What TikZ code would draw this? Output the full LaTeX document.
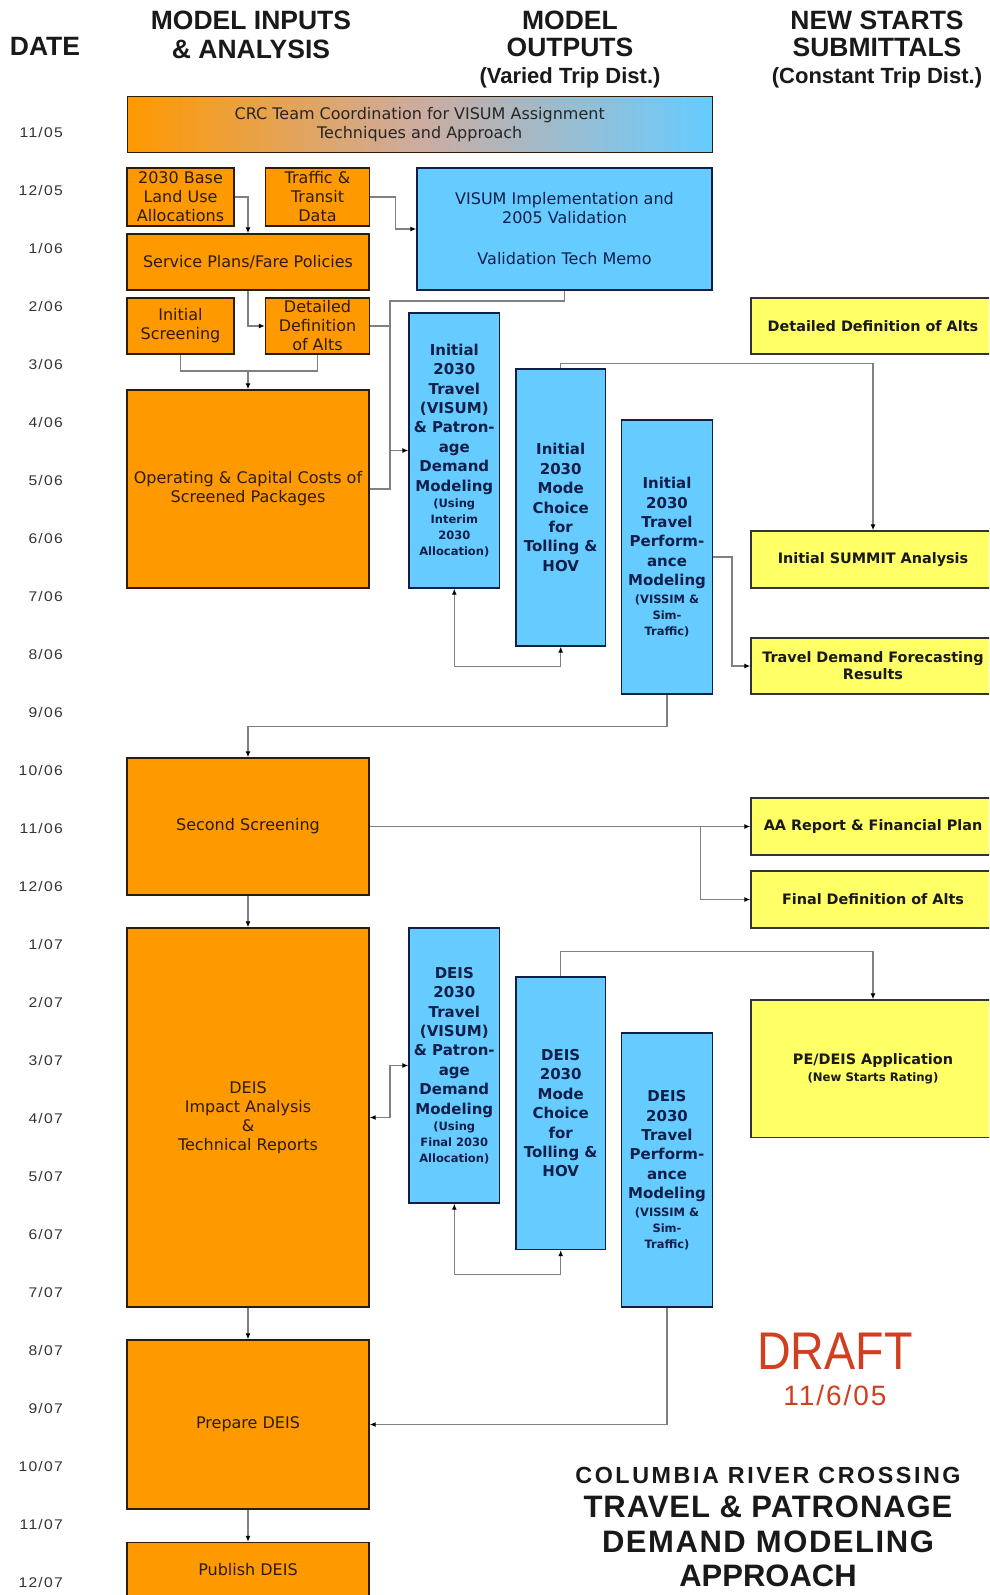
\documentclass[tikz,border=0pt]{standalone}
\usepackage{fontspec}
\setmainfont{DejaVu Sans}
\newfontfamily\headfont{Liberation Sans}
\newfontfamily\datefont[LetterSpace=8]{Liberation Sans}
\usetikzlibrary{arrows.meta,positioning}
\definecolor{crcorange}{RGB}{255,153,0}
\definecolor{crcblue}{RGB}{102,204,255}
\definecolor{crcmid}{RGB}{205,172,160}
\definecolor{crcyellow}{RGB}{255,255,102}
\definecolor{crcnavy}{RGB}{15,31,74}
\definecolor{inkbrown}{RGB}{45,28,10}
\definecolor{linkgray}{RGB}{128,128,128}
\definecolor{draftred}{RGB}{208,64,32}
\newcommand{\sm}{\fontsize{11.5}{16}\selectfont}

\begin{document}
\begin{tikzpicture}
  [x=1pt,y=-1pt,
    >={Latex[length=6pt,width=5pt,color=black]},
    every node/.style={inner sep=0pt,align=center},
    sz/.style 2 args={minimum width=#1,minimum height=#2},
    inbox/.style={fill=crcorange,draw=inkbrown,line width=1.4pt,text=inkbrown,font=\fontsize{16}{19}\selectfont},
    outbox/.style={fill=crcblue,draw=crcnavy,line width=1.4pt,text=crcnavy,font=\bfseries\fontsize{15}{19.4}\selectfont},
    subbox/.style={fill=crcyellow,draw=black!80,line width=1.4pt,text=black!90,font=\bfseries\fontsize{14.4}{17}\selectfont},
    head/.style={font=\headfont\bfseries\fontsize{26.5}{26.5}\selectfont,text=black!90},
    datelbl/.style={font=\datefont\fontsize{14}{14}\selectfont,text=black!80,anchor=east},
    link/.style={draw=linkgray,line width=1.2pt}]
  \useasboundingbox (0,0) rectangle (989,1595);
  \clip (0,0) rectangle (989,1595);

  % column heads
  \node[head] (h0) at (45,46) {DATE};
  \node[head,anchor=north] (h1) at (251,11) {MODEL INPUTS\\[2pt]\& ANALYSIS};
  \node[head,anchor=north] (h2) at (570,11) {MODEL\\OUTPUTS\\[1pt]{\fontsize{22}{24}\selectfont (Varied Trip Dist.)}};
  \node[head,anchor=north] (h3) at (877,11) {NEW STARTS\\SUBMITTALS\\[1pt]{\fontsize{22}{24}\selectfont (Constant Trip Dist.)}};

  % months
  \foreach \m/\y [count=\i from 0] in {11/05,12/05,1/06,2/06,3/06,4/06,5/06,6/06,7/06,8/06,9/06,10/06,11/06,12/06,
      1/07,2/07,3/07,4/07,5/07,6/07,7/07,8/07,9/07,10/07,11/07,12/07}
    \node[datelbl] (d\i) at (63,{132.3+58*\i}) {\scalebox{1.12}[1]{\m/\y}};

  % model inputs & analysis
  \node[sz={585}{56},draw=inkbrown,line width=1.4pt,left color=crcorange,right color=crcblue,middle color=crcmid,
        text=black!85,font=\fontsize{16}{19}\selectfont] (crc) at (419.7,124.7)
        {CRC Team Coordination for VISUM Assignment\\Techniques and Approach};
  \node[inbox,sz={107}{58}] (base) at (180.5,197) {2030 Base\\Land Use\\Allocations};
  \node[inbox,sz={104}{58}] (data) at (317.5,197) {Traffic \&\\Transit\\Data};
  \node[inbox,sz={242}{56}] (plans) at (248,262) {Service Plans/Fare Policies};
  \node[inbox,sz={107}{56}] (scr1) at (180.5,326) {Initial\\Screening};
  \node[inbox,sz={104}{56}] (defl) at (317.5,326) {Detailed\\Definition\\of Alts};
  \node[inbox,sz={242}{198}] (opcap) at (248,489) {Operating \& Capital Costs of\\Screened Packages};
  \node[inbox,sz={242}{137}] (scr2) at (248,826.5) {Second Screening};
  \node[inbox,sz={242}{379}] (deis) at (248,1117.5) {DEIS\\Impact Analysis\\\&\\Technical Reports};
  \node[inbox,sz={242}{169}] (prep) at (248,1424.5) {Prepare DEIS};
  \node[inbox,sz={242}{55}] (pub) at (248,1570) {Publish DEIS};

  % model outputs
  \node[outbox,sz={295}{122},font=\fontsize{16}{19}\selectfont] (visum) at (564.5,229)
        {VISUM Implementation and\\2005 Validation\\[22pt]Validation Tech Memo};
  \node[outbox,sz={90.6}{275}] (itrav) at (454.3,450.5)
        {Initial\\2030\\Travel\\(VISUM)\\\& Patron-\\age\\Demand\\Modeling\\[-3pt]\sm (Using\\[-3.4pt]\sm Interim\\[-3.4pt]\sm 2030\\[-3.4pt]\sm Allocation)};
  \node[outbox,sz={89.4}{277}] (imode) at (560.7,507.5) {Initial\\2030\\Mode\\Choice\\for\\Tolling \&\\HOV};
  \node[outbox,sz={90.6}{274}] (iperf) at (667,557)
        {Initial\\2030\\Travel\\Perform-\\ance\\Modeling\\[-2pt]\sm (VISSIM \&\\[-3.4pt]\sm Sim-\\[-3.4pt]\sm Traffic)};
  \node[outbox,sz={90.6}{275}] (dtrav) at (454.3,1065.5)
        {DEIS\\2030\\Travel\\(VISUM)\\\& Patron-\\age\\Demand\\Modeling\\[-3pt]\sm (Using\\[-3.4pt]\sm Final 2030\\[-3.4pt]\sm Allocation)};
  \node[outbox,sz={89.4}{272.5}] (dmode) at (560.7,1113.2) {DEIS\\2030\\Mode\\Choice\\for\\Tolling \&\\HOV};
  \node[outbox,sz={90.6}{274}] (dperf) at (667,1170)
        {DEIS\\2030\\Travel\\Perform-\\ance\\Modeling\\[-2pt]\sm (VISSIM \&\\[-3.4pt]\sm Sim-\\[-3.4pt]\sm Traffic)};

  % new starts submittals
  \node[subbox,sz={244}{56}] (ydef) at (873,326) {Detailed Definition of Alts};
  \node[subbox,sz={244}{57}] (summit) at (873,559.5) {Initial SUMMIT Analysis};
  \node[subbox,sz={244}{56}] (tdf) at (873,666) {Travel Demand Forecasting\\Results};
  \node[subbox,sz={244}{57}] (aa) at (873,826.5) {AA Report \& Financial Plan};
  \node[subbox,sz={244}{57}] (fdef) at (873,899.5) {Final Definition of Alts};
  \node[subbox,sz={244}{137.6}] (pe) at (873,1068.8) {PE/DEIS Application\\{\fontsize{11.7}{14}\selectfont (New Starts Rating)}};

  % links
  \draw[link,->] (base) -| (plans);
  \draw[link,->] (data.east) -- ++(25,0) |- (visum);
  \draw[link,->] (plans) |- (defl);
  \coordinate (j1) at (248,371);
  \draw[link] (scr1) |- (j1) -| (defl);
  \draw[link,->] (j1) -- (opcap);
  \coordinate (b1) at (390,301);
  \draw[link] (visum) |- (b1) |- (opcap);
  \draw[link] (defl) -- (defl -| b1);
  \draw[link,->] (itrav -| b1) -- (itrav);
  \draw[link,->] (imode.north) -- ++(0,-5) -| (summit);
  \draw[link,<->] (itrav.south) -- ++(0,78) -| (imode.south);
  \draw[link,->] (iperf.east) -- ++(19,0) |- (tdf);
  \draw[link,->] (iperf.south) -- ++(0,32) -| (scr2);
  \draw[link,->] (scr2) -- (aa);
  \coordinate (j2) at ([xshift=-50pt]aa.west);
  \draw[link,->] (j2) |- (fdef);
  \draw[link,->] (scr2) -- (deis);
  \draw[link,<->] (deis) -- (deis -| b1) |- (dtrav);
  \draw[link,->] (dmode.north) -- ++(0,-25) -| (pe);
  \draw[link,<->] (dtrav.south) -- ++(0,71) -| (dmode.south);
  \draw[link,->] (deis) -- (prep);
  \draw[link,->] (dperf) |- (prep);
  \draw[link,->] (prep) -- (pub);

  % stamp and title
  \node[text=draftred,font=\headfont\fontsize{53}{53}\selectfont] (draft) at (835,1351) {\scalebox{0.88}[1]{DRAFT}};
  \node[text=draftred,font=\headfont\fontsize{28}{28}\selectfont] (ddate) at (835,1395) {\addfontfeature{LetterSpace=7}11/6/05};
  \node[anchor=north,text=black!90,font=\headfont\bfseries\fontsize{31}{34.5}\selectfont] (title) at (768,1467)
        {{\fontsize{23.3}{25}\selectfont\addfontfeature{LetterSpace=11}COLUMBIA RIVER CROSSING}\\
         {\addfontfeature{LetterSpace=3}TRAVEL \& PATRONAGE}\\
         {\addfontfeature{LetterSpace=5}DEMAND MODELING}\\
         APPROACH};
\end{tikzpicture}
\end{document}
